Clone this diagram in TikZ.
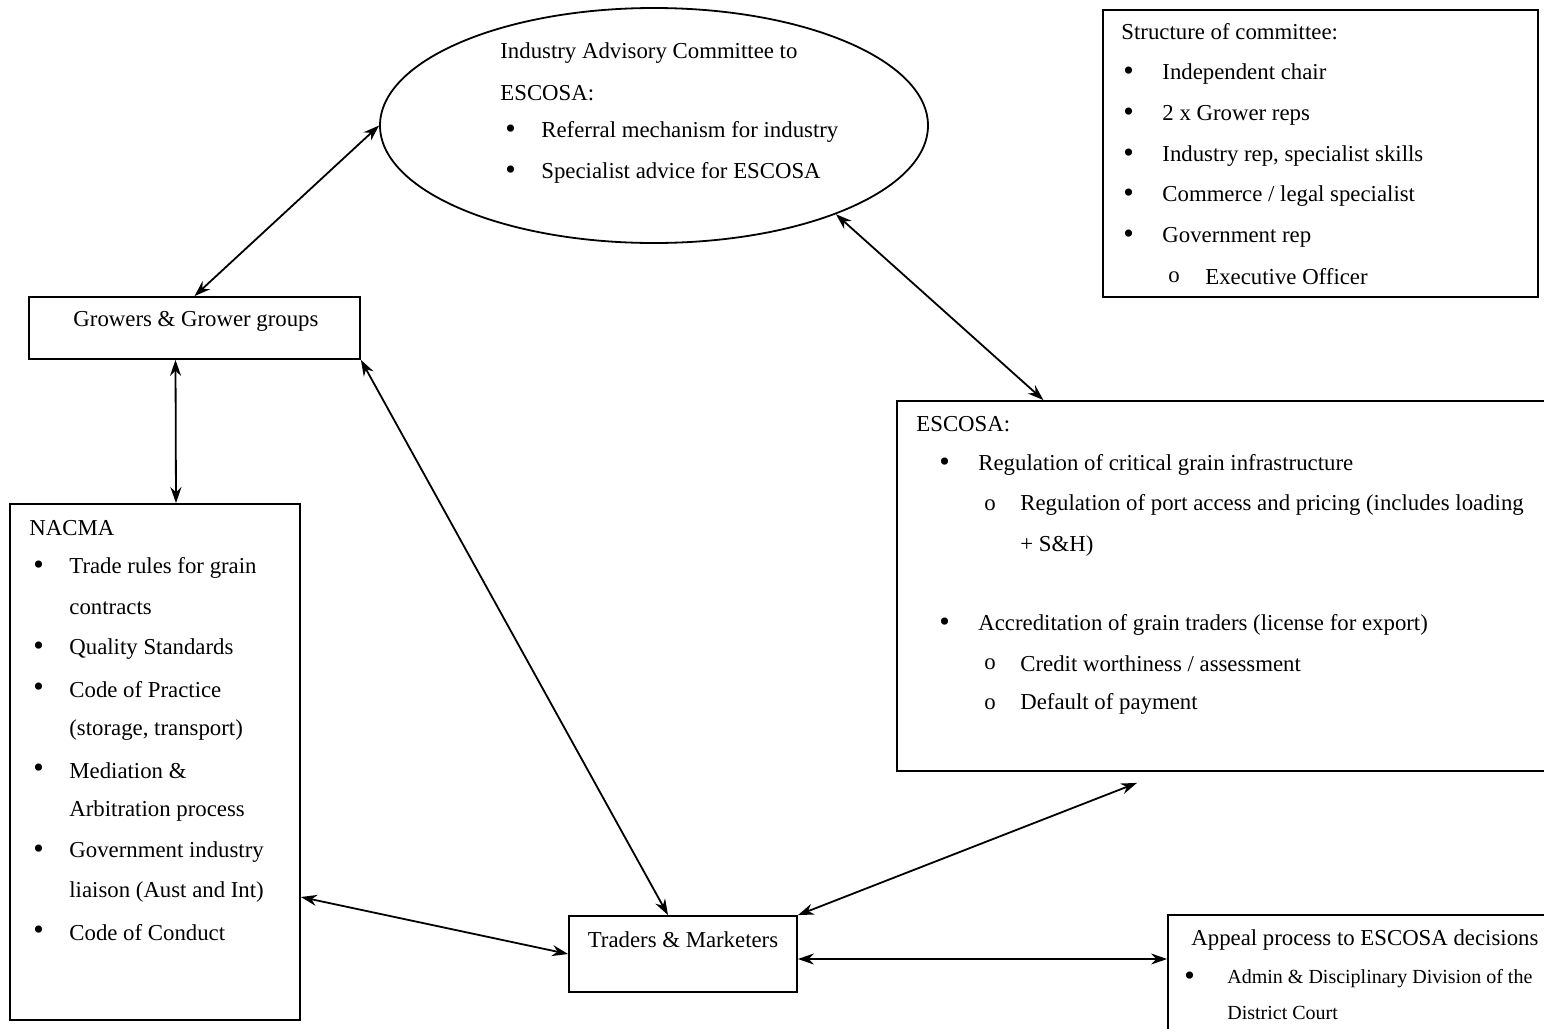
\documentclass[tikz,border=0pt]{standalone}
\usepackage{fontspec}
\setmainfont{Liberation Serif}
\usetikzlibrary{arrows.meta,shapes.geometric,calc}

\newcommand{\bigbul}{{\fontsize{15}{15}\selectfont\textbullet}}

\tikzset{
  box/.style={draw, line width=0.9pt, rectangle, inner sep=0pt},
  txt/.style={anchor=west, inner sep=0pt, font=\fontsize{11.4}{20}\selectfont},
  subtxt/.style={anchor=west, inner sep=0pt, font=\fontsize{10}{17}\selectfont},
  link/.style={{Stealth[length=8pt,width=5.5pt]}-{Stealth[length=8pt,width=5.5pt]}, line width=0.9pt},
}

\begin{document}
\begin{tikzpicture}[x=0.5pt,y=-0.5pt]
\useasboundingbox (0,0) rectangle (1544,1029);

% boxes
\node[box, ellipse, minimum width=274pt, minimum height=117.5pt] (iac) at (654,125.5) {};
\node[box, minimum width=165.5pt, minimum height=31pt] (grow) at (194.5,328) {};
\node[box, minimum width=145pt, minimum height=258pt] (nacma) at (155,762) {};
\node[box, minimum width=114pt, minimum height=38pt] (trade) at (683,954) {};
\node[box, minimum width=326pt, minimum height=185pt] (escosa) at (1223,586) {};
\node[box, minimum width=217.5pt, minimum height=143.5pt] (struct) at (1320.5,153.5) {};
\node[box, minimum width=191pt, minimum height=65pt] (appeal) at (1359,980) {};

% Industry Advisory Committee
\node[txt] (iac-t1) at (500,53) {Industry Advisory Committee to};
\node[txt] (iac-t2) at (500,93) {ESCOSA:};
\foreach \y/\t [count=\i] in {132/Referral mechanism for industry, 173/Specialist advice for ESCOSA}{
  \node[txt] (iac-b\i) at (505,\y) {\bigbul};
  \node[txt] (iac-l\i) at (541,\y) {\t};
}

% Growers, Traders
\node[txt, anchor=center] (grow-t) at (196,321) {Growers \& Grower groups};
\node[txt, anchor=center] (trade-t) at (683,940) {Traders \& Marketers};

% NACMA
\node[txt] (nacma-t) at (29,528) {NACMA};
\foreach \y [count=\i] in {568,649,690,771,852,933}
  \node[txt] (nacma-b\i) at (33,\y) {\bigbul};
\foreach \y/\t [count=\i] in {568/Trade rules for grain, 608/contracts, 649/Quality Standards,
    690/Code of Practice, 730/{(storage, transport)}, 771/Mediation \&, 811/Arbitration process,
    852/Government industry, 892/liaison (Aust and Int), 933/Code of Conduct}
  \node[txt] (nacma-l\i) at (69,\y) {\t};

% ESCOSA
\node[txt] (escosa-t) at (916,424) {ESCOSA:};
\foreach \y/\t [count=\i] in {465/Regulation of critical grain infrastructure,
    625/Accreditation of grain traders (license for export)}{
  \node[txt] (escosa-b\i) at (939,\y) {\bigbul};
  \node[txt] (escosa-l\i) at (978,\y) {\t};
}
\foreach \y [count=\i] in {505,664,704}
  \node[txt] (escosa-o\i) at (984,\y) {o};
\foreach \y/\t [count=\i] in {505/Regulation of port access and pricing (includes loading,
    546/+ S\&H), 664/{Credit worthiness / assessment}, 704/Default of payment}
  \node[txt] (escosa-s\i) at (1020,\y) {\t};

% Structure of committee
\node[txt] (struct-t) at (1121,32) {Structure of committee:};
\foreach \y/\t [count=\i] in {74/Independent chair, 115/2 x Grower reps,
    156/{Industry rep, specialist skills}, 196/{Commerce / legal specialist}, 237/Government rep}{
  \node[txt] (struct-b\i) at (1123,\y) {\bigbul};
  \node[txt] (struct-l\i) at (1162,\y) {\t};
}
\node[txt] (struct-o) at (1168,277) {o};
\node[txt] (struct-s) at (1205,277) {Executive Officer};

% Appeal
\node[txt] (appeal-t) at (1191,940) {Appeal process to ESCOSA decisions};
\node[subtxt] (appeal-b) at (1184,979) {\bigbul};
\node[subtxt] (appeal-l1) at (1227,979) {Admin \& Disciplinary Division of the};
\node[subtxt] (appeal-l2) at (1227,1013) {District Court};

% links
\coordinate (trade-r) at ($(trade.east)+(0,5)$);
\draw[link] (iac.west) -- (grow.north);
\draw[link] (iac.-26) -- (escosa.134.7);
\draw[link] ($(grow.south)+(-19,0)$) -- ($(nacma.north)+(21,0)$);
\draw[link] (grow.south east) -- ($(trade.north)+(-15,0)$);
\draw[link] ($(nacma.east)+(0,135)$) -- (trade.west);
\draw[link] ($(escosa.south)+(-86,11)$) -- (trade.north east);
\draw[link] (trade-r) -- (trade-r -| appeal.west);

\end{tikzpicture}
\end{document}
